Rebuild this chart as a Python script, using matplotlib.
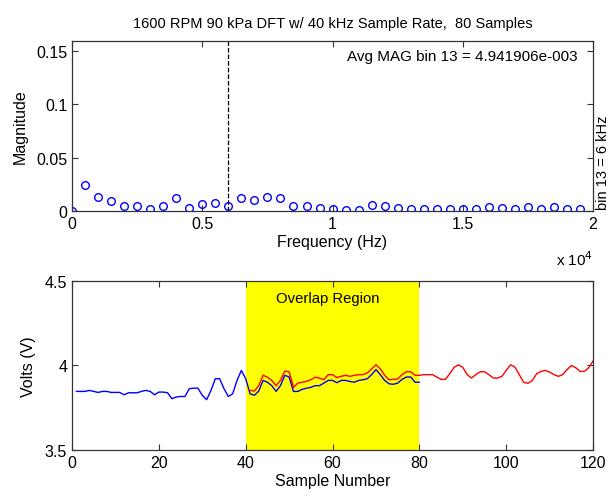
import matplotlib
matplotlib.use("Agg")
import matplotlib.pyplot as plt
import numpy as np

plt.rcParams['font.family'] = ['Liberation Sans', 'DejaVu Sans']

# DFT magnitudes, 40 bins at 500 Hz spacing
freq = np.arange(40) * 500
mag = [0.0002, 0.0244, 0.0127, 0.0095, 0.0047, 0.0047, 0.0022, 0.0047, 0.0117, 0.0032,
       0.0063, 0.0079, 0.0049, 0.0117, 0.0104, 0.0127, 0.0117, 0.0047, 0.0047, 0.0032,
       0.0022, 0.0010, 0.0010, 0.0057, 0.0047, 0.0025, 0.0015, 0.0015, 0.0015, 0.0015,
       0.0015, 0.0015, 0.0040, 0.0030, 0.0015, 0.0038, 0.0015, 0.0038, 0.0015, 0.0015]
bin_freq = 6000

# first window (samples 1-80)
samp1 = np.arange(1, 81)
volts1 = [3.846, 3.846, 3.846, 3.852, 3.846, 3.840, 3.846, 3.846, 3.840, 3.840,
          3.840, 3.826, 3.838, 3.838, 3.838, 3.846, 3.852, 3.846, 3.826, 3.842,
          3.842, 3.838, 3.803, 3.813, 3.816, 3.816, 3.862, 3.865, 3.865, 3.823,
          3.797, 3.852, 3.921, 3.921, 3.862, 3.816, 3.832, 3.911, 3.970, 3.921,
          3.832, 3.823, 3.848, 3.911, 3.900, 3.880, 3.846, 3.880, 3.941, 3.931,
          3.846, 3.846, 3.858, 3.865, 3.870, 3.880, 3.880, 3.895, 3.911, 3.911,
          3.897, 3.911, 3.911, 3.905, 3.900, 3.911, 3.915, 3.921, 3.945, 3.975,
          3.945, 3.911, 3.891, 3.888, 3.895, 3.917, 3.931, 3.931, 3.900, 3.900]

# second window (samples 41-120)
samp2 = np.arange(41, 121)
volts2 = [3.852, 3.848, 3.880, 3.941, 3.930, 3.911, 3.880, 3.911, 3.966, 3.962,
          3.870, 3.895, 3.900, 3.905, 3.915, 3.930, 3.925, 3.915, 3.945, 3.945,
          3.928, 3.935, 3.941, 3.935, 3.941, 3.945, 3.945, 3.955, 3.979, 4.003,
          3.979, 3.941, 3.915, 3.917, 3.920, 3.945, 3.962, 3.962, 3.941, 3.941,
          3.945, 3.945, 3.945, 3.931, 3.917, 3.917, 3.951, 3.988, 4.003, 3.988,
          3.945, 3.925, 3.945, 3.962, 3.962, 3.945, 3.925, 3.925, 3.935, 3.970,
          4.003, 3.990, 3.945, 3.900, 3.894, 3.910, 3.950, 3.964, 3.970, 3.960,
          3.945, 3.935, 3.945, 3.975, 3.999, 3.986, 3.964, 3.964, 3.986, 4.026]

fig = plt.figure(figsize=(6.13, 5.02), dpi=100)

ax1 = fig.add_axes([0.1175, 0.5777, 0.850, 0.3386])
ax1.plot(freq, mag, 'o', mfc='none', mec='blue', ms=5.5, mew=1)
ax1.axvline(bin_freq, color='k', ls='--', lw=0.9)
ax1.set_xlim(0, 20000)
ax1.set_ylim(0, 0.159)
ax1.set_xticks([0, 5000, 10000, 15000, 20000])
ax1.set_xticklabels(['0', '0.5', '1', '1.5', '2'])
ax1.set_yticks([0, 0.05, 0.1, 0.15])
ax1.set_yticklabels(['0', '0.05', '0.1', '0.15'])
ax1.set_xlabel('Frequency (Hz)', fontsize=11.5, labelpad=2)
ax1.set_ylabel('Magnitude', fontsize=11.5, labelpad=6)
ax1.set_title('1600 RPM 90 kPa DFT w/ 40 kHz Sample Rate,  80 Samples', fontsize=10.5, pad=10)
ax1.text(0.971, 0.91, 'Avg MAG bin 13 = 4.941906e-003', transform=ax1.transAxes,
         ha='right', va='center', fontsize=11)
ax1.text(1.019, 0.01, 'bin 13 = 6 kHz', transform=ax1.transAxes, rotation=90,
         ha='center', va='bottom', fontsize=10.5)
ax1.text(1.0, -0.28, 'x 10$^{4}$', transform=ax1.transAxes, ha='right', va='center',
         fontsize=11)

ax2 = fig.add_axes([0.1175, 0.1016, 0.850, 0.3373])
ax2.axvspan(40, 80, color='yellow', lw=0)
ax2.plot(samp1, volts1, color='blue', lw=1)
ax2.plot(samp2, volts2, color='red', lw=1)
ax2.text(59, 4.40, 'Overlap Region', ha='center', va='center', fontsize=10.7)
ax2.set_xlim(0, 120)
ax2.set_ylim(3.5, 4.5)
ax2.set_xticks([0, 20, 40, 60, 80, 100, 120])
ax2.set_yticks([3.5, 4, 4.5])
ax2.set_yticklabels(['3.5', '4', '4.5'])
ax2.set_xlabel('Sample Number', fontsize=11.5, labelpad=2)
ax2.set_ylabel('Volts (V)', fontsize=11.5, labelpad=6)

for ax in (ax1, ax2):
    ax.tick_params(direction='in', top=True, right=True, length=4, width=0.8,
                   labelsize=11.5, colors='#333333', labelcolor='black')
    for sp in ax.spines.values():
        sp.set_color('#333333')
        sp.set_linewidth(0.9)

fig.savefig('out.png', dpi=100)
